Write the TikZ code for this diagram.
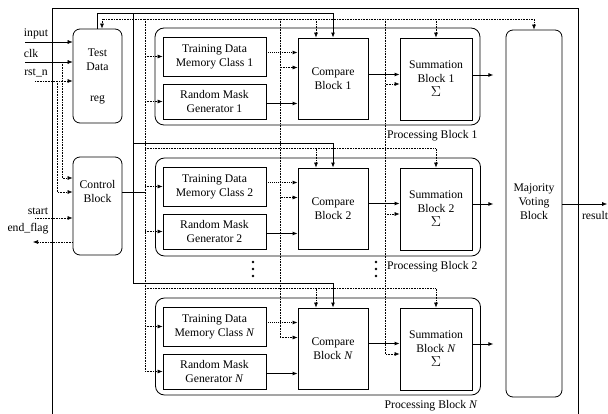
\documentclass[tikz,border=0pt]{standalone}
\usepackage{fontspec}
\setmainfont{Liberation Serif}
\usetikzlibrary{arrows.meta,positioning}
\tikzset{
    >={Latex[length=5pt,width=4pt]},
    blk/.style={draw,line width=0.8pt,inner sep=1pt,align=center,fill=white},
    rblk/.style={blk,rounded corners=7pt},
    pblk/.style={draw,line width=0.8pt,rounded corners=9pt},
    bus/.style={line width=0.9pt},
    ctl/.style={densely dotted,line width=0.6pt},
}
\newcommand{\sumsign}{\\[0pt]{\Large$\Sigma$}}
\begin{document}
\begin{tikzpicture}[x=1pt,y=-1pt,font=\fontsize{11.7}{14}\selectfont]
    \useasboundingbox (0,0) rectangle (608,414);
    \draw[semithick] (52,414) -- (52,8) -- (578,8) -- (578,414);

    \node[pblk,minimum width=325,minimum height=97] (pb1) at (317.5,76.5) {};
    \node[pblk,minimum width=325,minimum height=98] (pb2) at (318,207) {};
    \node[pblk,minimum width=325,minimum height=97] (pbN) at (318,346.5) {};
    \node[anchor=east] (pl1) at (481,136) {Processing Block 1};
    \node[anchor=east] (pl2) at (481,267) {Processing Block 2};
    \node[anchor=east] (plN) at (481,406) {Processing Block \textit{N}};

    \node[rblk,minimum width=49,minimum height=94] (tdr) at (97.5,76) {Test\\Data\\[17pt]reg};
    \node[rblk,minimum width=49,minimum height=98] (ctrl) at (97.5,206) {};
    \node[align=center] (ctrltxt) at (97.5,191) {Control\\Block};
    \node[rblk,minimum width=56,minimum height=367] (maj) at (534,213.5) {};
    \node[align=center] (majtxt) at (534,202) {Majority\\Voting\\Block};

    \node[blk,minimum width=103,minimum height=39] (trn1) at (214.5,56.5) {Training Data\\Memory Class 1};
    \node[blk,minimum width=103,minimum height=35] (rnd1) at (214.5,101.5) {Random Mask\\Generator 1};
    \node[blk,minimum width=70,minimum height=81] (cmp1) at (333,78.5) {Compare\\Block 1};
    \node[blk,minimum width=72,minimum height=82] (sum1) at (436,79) {Summation\\Block 1\sumsign};

    \node[blk,minimum width=103,minimum height=39] (trn2) at (214.5,186.5) {Training Data\\Memory Class 2};
    \node[blk,minimum width=103,minimum height=35] (rnd2) at (214.5,231.5) {Random Mask\\Generator 2};
    \node[blk,minimum width=70,minimum height=81] (cmp2) at (333,208.5) {Compare\\Block 2};
    \node[blk,minimum width=72,minimum height=82] (sum2) at (436,209) {Summation\\Block 2\sumsign};

    \node[blk,minimum width=103,minimum height=39] (trnN) at (214.5,326.5) {Training Data\\Memory Class \textit{N}};
    \node[blk,minimum width=103,minimum height=35] (rndN) at (214.5,371.5) {Random Mask\\Generator \textit{N}};
    \node[blk,minimum width=70,minimum height=81] (cmpN) at (333,348.5) {Compare\\Block \textit{N}};
    \node[blk,minimum width=72,minimum height=82] (sumN) at (436,349) {Summation\\Block \textit{N}\sumsign};

    \foreach \y in {262,269,276} {
        \fill (253,\y) circle (1.3pt);
        \fill (376,\y) circle (1.3pt);
    }

    \coordinate (inin) at (25,42);
    \coordinate (ckin) at (25,62);
    \coordinate (rsin) at (35,81);
    \coordinate (ckj) at (62,62);
    \coordinate (rsj) at (57,81);
    \coordinate (stin) at (35,218);
    \coordinate (efout) at (33,242);
    \coordinate (resout) at (607,204);
    \node (linput) at (36,34) {input};
    \node (lclk) at (31,54) {clk};
    \node (lrst) at (36,73) {rst\_n};
    \node (lstart) at (38,211) {start};
    \node (lend) at (28,229) {end\_flag};
    \node (lres) at (595,215) {result};

    \draw[->] (inin) -- (inin -| tdr.west);
    \draw[->] (ckin) -- (ckin -| tdr.west);
    \draw[ctl,->] (rsin) -- (rsin -| tdr.west);
    \draw[ctl,->] (ckj) |- ([yshift=28pt]ctrl.west);
    \draw[ctl,->] (rsj) |- ([yshift=14pt]ctrl.west);
    \draw[ctl,->] (stin) -- (stin -| ctrl.west);
    \draw[ctl,->] (efout -| ctrl.west) -- (efout);
    \draw[->] ([yshift=9.5pt]maj.east) -- ([yshift=9.5pt]maj.east -| resout);

    \coordinate (tb) at (133,14);
    \draw[bus,->] (tdr.north) |- ([yshift=24pt]cmp1.north) -- (cmp1.north);
    \draw[bus,->] (tb) |- ([yshift=24pt]cmp2.north) -- (cmp2.north);
    \draw[bus,->] (tb) |- ([yshift=24pt]cmpN.north) -- (cmpN.north);

    \coordinate (cb) at (145,19);
    \coordinate (ck) at (280,19);
    \coordinate (rs) at (385,19);
    \draw ([yshift=14pt]ctrl.east) -- ([yshift=14pt]ctrl.east -| cb);
    \draw[ctl] (cb) -- (cb |- rndN.west);
    \draw[ctl,->] (cb) -| ([xshift=4.5pt]tdr.north);
    \draw[ctl,->] (cb) -| (maj.north);
    \draw[ctl,->] (cb) -| ([xshift=-17pt]cmp1.north);
    \draw[ctl,->] (cb) -| (sum1.north);
    \draw[ctl,->] ([yshift=19pt]cmp2.north -| cb) -| ([xshift=-17pt]cmp2.north);
    \draw[ctl,->] ([yshift=19pt]cmp2.north -| cb) -| (sum2.north);
    \draw[ctl,->] ([yshift=19pt]cmpN.north -| cb) -| ([xshift=-17pt]cmpN.north);
    \draw[ctl,->] ([yshift=19pt]cmpN.north -| cb) -| (sumN.north);
    \draw[ctl,->] (cb |- trn1.west) -- (trn1.west);
    \draw[ctl,->] (cb |- rnd1.west) -- (rnd1.west);
    \draw[ctl,->] (cb |- trn2.west) -- (trn2.west);
    \draw[ctl,->] (cb |- rnd2.west) -- (rnd2.west);
    \draw[ctl,->] (cb |- trnN.west) -- (trnN.west);
    \draw[ctl,->] (cb |- rndN.west) -- (rndN.west);

    \draw[ctl,->] (ck) |- ([yshift=11pt]cmp1.west);
    \draw[ctl,->] (ck) |- ([yshift=11pt]cmp2.west);
    \draw[ctl,->] (ck) |- ([yshift=11pt]cmpN.west);
    \draw[ctl,->] (rs) |- ([yshift=-5pt]sum1.west);
    \draw[ctl,->] (rs) |- ([yshift=-5pt]sum2.west);
    \draw[ctl,->] (rs) |- ([yshift=-5pt]sumN.west);

    \draw[bus,densely dotted,->] ([yshift=4pt]trn1.east) -- ([yshift=4pt]trn1.east -| cmp1.west);
    \draw[bus,->] ([yshift=-2pt]rnd1.east) -- ([yshift=-2pt]rnd1.east -| cmp1.west);
    \draw[bus,->] ([yshift=4pt]cmp1.east) -- ([yshift=4pt]cmp1.east -| sum1.west);
    \draw[bus,->] ([yshift=4pt]sum1.east) -- ++(21,0);
    \draw[bus,densely dotted,->] ([yshift=4pt]trn2.east) -- ([yshift=4pt]trn2.east -| cmp2.west);
    \draw[bus,->] ([yshift=-2pt]rnd2.east) -- ([yshift=-2pt]rnd2.east -| cmp2.west);
    \draw[bus,->] ([yshift=5pt]cmp2.east) -- ([yshift=5pt]cmp2.east -| sum2.west);
    \draw[bus,->] ([yshift=5pt]sum2.east) -- ++(21,0);
    \draw[bus,densely dotted,->] ([yshift=4pt]trnN.east) -- ([yshift=4pt]trnN.east -| cmpN.west);
    \draw[bus,->] ([yshift=-2pt]rndN.east) -- ([yshift=-2pt]rndN.east -| cmpN.west);
    \draw[bus,->] ([yshift=5pt]cmpN.east) -- ([yshift=5pt]cmpN.east -| sumN.west);
    \draw[bus,->] ([yshift=5pt]sumN.east) -- ++(21,0);
\end{tikzpicture}
\end{document}
